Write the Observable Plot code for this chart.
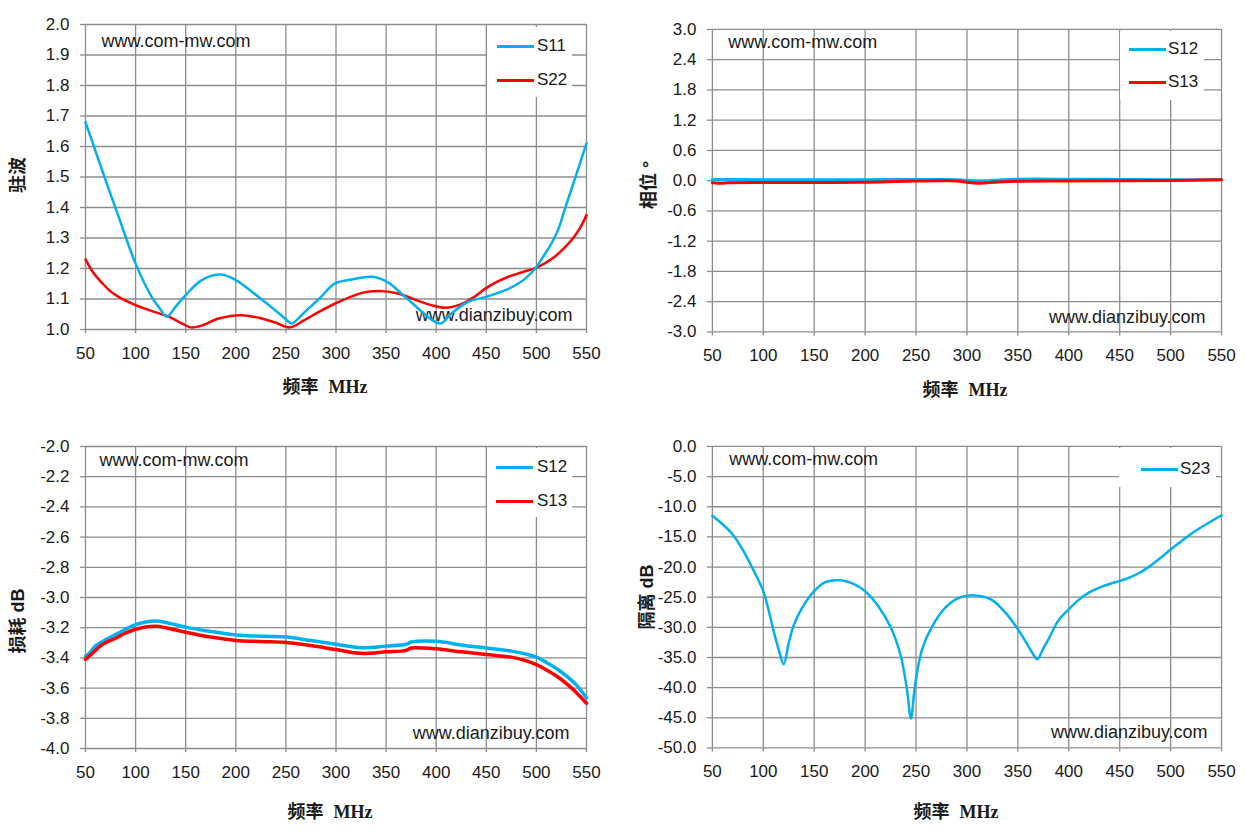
<!DOCTYPE html>
<html><head><meta charset="utf-8">
<script src="https://cdn.jsdelivr.net/npm/d3@7"></script>
<script src="https://cdn.jsdelivr.net/npm/@observablehq/plot@0.6"></script>
<style>
html,body{margin:0;padding:0;background:#fff;}
#root{position:relative;width:1255px;height:838px;overflow:hidden;font-family:"Liberation Sans",Arial,sans-serif;color:#1a1a1a;}
.pnl{position:absolute;}
.lg{position:absolute;background:#fff;}
.lgline{position:absolute;height:3px;}
.lgtxt{position:absolute;font-size:17px;line-height:20px;}
.xt{position:absolute;font-size:18px;font-weight:bold;white-space:nowrap;transform:translate(-50%,-50%);}
.yt{position:absolute;font-size:18px;font-weight:bold;white-space:nowrap;transform:translate(-50%,-50%) rotate(-90deg);}
.cjk{font-family:"Noto Sans CJK SC",sans-serif;font-weight:bold;}
.ser{font-family:"Liberation Serif",serif;font-weight:bold;}
.sans{font-family:"Liberation Sans",Arial,sans-serif;font-weight:bold;}
</style></head>
<body><div id="root"></div>
<script>
// ---------- shared ----------
const freqTicks = [50,100,150,200,250,300,350,400,450,500,550];
const blue = "#00B0F0", red = "#FF0000";

// ---------- panel 1: VSWR ----------
const vswrTicks = [1.0,1.1,1.2,1.3,1.4,1.5,1.6,1.7,1.8,1.9,2.0];
const s11Freq = [50,60,70,83,100,116,124,131,140,150,166,185,200,216,233,246,256,262,269,283,299,316,336,351,369,382,396,405,415,432,450,469,482,490,500,508,515,522,528,538,550];
const s11Vswr = [1.68,1.585,1.49,1.37,1.216,1.107,1.07,1.042,1.075,1.113,1.162,1.18,1.162,1.124,1.08,1.045,1.02,1.035,1.058,1.10,1.151,1.164,1.173,1.156,1.107,1.069,1.031,1.02,1.052,1.091,1.107,1.129,1.151,1.17,1.205,1.245,1.282,1.33,1.391,1.49,1.61];
const s22Freq = [50,58,67,75,83,100,115,133,145,155,165,183,206,226,240,254,268,283,303,326,342,362,382,395,409,425,437,449,460,472,486,500,518,535,543,550];
const s22Vswr = [1.23,1.185,1.151,1.125,1.107,1.08,1.062,1.042,1.022,1.007,1.012,1.036,1.047,1.036,1.022,1.007,1.03,1.058,1.091,1.12,1.126,1.118,1.094,1.08,1.071,1.083,1.105,1.134,1.155,1.173,1.188,1.203,1.238,1.293,1.33,1.375];

// ---------- panel 2: phase ----------
const phaseTicks = [-3.0,-2.4,-1.8,-1.2,-0.6,0.0,0.6,1.2,1.8,2.4,3.0];
const s12PhFreq = [50,100,150,200,250,280,295,305,320,335,350,400,450,500,550];
const s12Phase = [0.025,0.02,0.02,0.02,0.025,0.025,0.015,0.0,0.0,0.02,0.03,0.03,0.025,0.02,0.025];
const s13PhFreq = [50,60,65,100,150,200,230,250,280,290,300,310,320,335,350,400,450,500,550];
const s13Phase = [-0.04,-0.05,-0.04,-0.035,-0.035,-0.03,-0.015,-0.005,0.0,-0.005,-0.03,-0.05,-0.04,-0.02,-0.01,-0.005,0.0,0.005,0.02];

// ---------- panel 3: insertion loss ----------
const lossTicks = [-4.0,-3.8,-3.6,-3.4,-3.2,-3.0,-2.8,-2.6,-2.4,-2.2,-2.0];
const lossFreq = [50,55,60,65,70,80,90,100,110,120,130,140,150,175,200,225,250,275,300,325,350,370,375,400,425,450,475,490,500,510,520,530,540,550];
const s12Loss = [-3.39,-3.36,-3.32,-3.30,-3.28,-3.245,-3.21,-3.18,-3.162,-3.155,-3.165,-3.18,-3.196,-3.225,-3.248,-3.257,-3.262,-3.285,-3.31,-3.332,-3.322,-3.31,-3.295,-3.29,-3.315,-3.335,-3.355,-3.375,-3.395,-3.43,-3.47,-3.52,-3.58,-3.665];
const s13Loss = [-3.41,-3.38,-3.35,-3.32,-3.30,-3.27,-3.235,-3.21,-3.195,-3.19,-3.2,-3.215,-3.23,-3.262,-3.284,-3.292,-3.298,-3.318,-3.345,-3.37,-3.36,-3.35,-3.335,-3.34,-3.36,-3.378,-3.395,-3.42,-3.445,-3.48,-3.52,-3.57,-3.63,-3.70];

// ---------- panel 4: isolation ----------
const isoTicks = [-50,-45,-40,-35,-30,-25,-20,-15,-10,-5,0];
const s23Freq = [50,60,70,80,90,100,105,110,115,120,125,130,138,150,161,176,190,200,213,226,235,241,245,249,256,266,279,292,308,324,338,350,356,362,366,369,375,380,390,400,410,420,430,440,450,460,470,480,490,500,510,520,530,540,550];
const s23Iso = [-11.5,-12.9,-14.6,-17.2,-20.4,-24.0,-27.0,-30.5,-33.6,-36.1,-32.6,-29.6,-26.8,-24.0,-22.5,-22.2,-22.9,-24.0,-26.5,-30.3,-34.7,-40.2,-45.1,-39.6,-33.6,-29.8,-26.7,-25.1,-24.7,-25.4,-27.6,-30.3,-31.9,-33.6,-34.7,-35.3,-33.5,-32.0,-28.8,-27.0,-25.4,-24.2,-23.4,-22.8,-22.3,-21.7,-20.9,-19.8,-18.5,-17.1,-15.8,-14.5,-13.4,-12.4,-11.4];

// ---------- drawing ----------
const root = document.getElementById("root");
const gridStyle = {stroke:"#8c8c8c", strokeOpacity:1, strokeWidth:1.3};
const fontFam = "'Liberation Sans', Arial, sans-serif";

function panel(cfg) {
  const {left, top, width, height, mt, mb, ml, mr, yTicks, yFmt, series, wm} = cfg;
  const marks = [
    Plot.gridX(freqTicks, gridStyle),
    Plot.gridY(yTicks, gridStyle),
    Plot.axisX(freqTicks, {tickSize:4, tickPadding:13, stroke:"#8c8c8c", strokeWidth:1.3, fill:"#1a1a1a", label:null, tickFormat:d=>String(d)}),
    Plot.axisY(yTicks, {tickSize:5, tickPadding:11, stroke:"#8c8c8c", strokeWidth:1.3, fill:"#1a1a1a", label:null, tickFormat:yFmt}),
    Plot.text(["www.com-mw.com"], {text:d=>d, frameAnchor:"top-left", textAnchor:"start", lineAnchor:"bottom", dx:wm[0], dy:wm[1], fontSize:18, fill:"#1a1a1a"}),
    Plot.text(["www.dianzibuy.com"], {text:d=>d, frameAnchor:"bottom-right", textAnchor:"end", lineAnchor:"bottom", dx:wm[2], dy:wm[3], fontSize:18, fill:"#1a1a1a"}),
    ...series.map(s => Plot.line(s.v, {x:s.f, y:s.v, stroke:s.color, strokeWidth:s.w, curve:s.curve || "catmull-rom"}))
  ];
  const chart = Plot.plot({
    width, height, marginTop:mt, marginBottom:mb, marginLeft:ml, marginRight:mr,
    style:{fontFamily:fontFam, fontSize:"17px", color:"#1a1a1a", background:"transparent", overflow:"visible"},
    x:{domain:[50,550]},
    y:{domain:[yTicks[0], yTicks[yTicks.length-1]]},
    marks
  });
  const d = document.createElement("div");
  d.className = "pnl"; d.style.left = left+"px"; d.style.top = top+"px";
  d.appendChild(chart);
  root.appendChild(d);
}

const f1 = d=>d.toFixed(1);

panel({left:0, top:0, width:620, height:410, mt:24, mb:81, ml:85, mr:34, yTicks:vswrTicks, yFmt:f1,
  wm:[16,22,-14,-9],
  series:[{f:s22Freq, v:s22Vswr, color:red, w:2.5},{f:s11Freq, v:s11Vswr, color:blue, w:2.5}]});
panel({left:627, top:0, width:629, height:413, mt:29, mb:81, ml:85, mr:34, yTicks:phaseTicks, yFmt:f1,
  wm:[16,19,-16,-9],
  series:[{f:s12PhFreq, v:s12Phase, color:blue, w:3},{f:s13PhFreq, v:s13Phase, color:red, w:3}]});
panel({left:0, top:420, width:620, height:409, mt:26, mb:81, ml:85, mr:34, yTicks:lossTicks, yFmt:f1,
  wm:[14,19,-17,-10],
  series:[{f:lossFreq, v:s12Loss, color:blue, w:3.5},{f:lossFreq, v:s13Loss, color:red, w:3.5}]});
panel({left:627, top:420, width:629, height:409, mt:26, mb:81, ml:85, mr:34, yTicks:isoTicks, yFmt:f1,
  wm:[17,19,-14,-10],
  series:[{f:s23Freq, v:s23Iso, color:blue, w:2.5}]});

// ---------- legends (HTML) ----------
function legend(box, items) {
  const b = document.createElement("div");
  b.className = "lg";
  Object.assign(b.style, {left:box[0]+"px", top:box[1]+"px", width:(box[2]-box[0])+"px", height:(box[3]-box[1])+"px"});
  root.appendChild(b);
  for (const it of items) {
    const l = document.createElement("div");
    l.className = "lgline";
    Object.assign(l.style, {left:it.x0+"px", top:(it.y-1.5)+"px", width:(it.x1-it.x0)+"px", background:it.color});
    root.appendChild(l);
    const t = document.createElement("div");
    t.className = "lgtxt"; t.textContent = it.label;
    Object.assign(t.style, {left:it.tx+"px", top:(it.y-10)+"px"});
    root.appendChild(t);
  }
}
legend([487,27,572,97], [{label:"S11", color:blue, x0:497, x1:534, tx:537, y:46},{label:"S22", color:red, x0:497, x1:534, tx:537, y:80}]);
legend([1120,31,1204,100], [{label:"S12", color:blue, x0:1129, x1:1166, tx:1168, y:49},{label:"S13", color:red, x0:1129, x1:1166, tx:1168, y:82}]);
legend([487,448,572,517], [{label:"S12", color:blue, x0:496, x1:533, tx:537, y:467},{label:"S13", color:red, x0:496, x1:533, tx:537, y:501}]);
legend([1119,448,1216,487], [{label:"S23", color:blue, x0:1141, x1:1178, tx:1180, y:469}]);

// ---------- axis titles ----------
function title(cls, x, y, html) {
  const t = document.createElement("div");
  t.className = cls; t.innerHTML = html;
  Object.assign(t.style, {left:x+"px", top:y+"px"});
  root.appendChild(t);
}
const xTitle = '<span class="cjk">频率</span>&nbsp;&nbsp;<span class="ser">MHz</span>';
title("xt", 325, 385, xTitle);
title("xt", 965, 388, xTitle);
title("xt", 330, 810, xTitle);
title("xt", 956, 810, xTitle);
title("yt", 16, 175, '<span class="cjk">驻波</span>');
title("yt", 647, 185, '<span class="cjk">相位</span> <span class="sans">°</span>');
title("yt", 16, 621, '<span class="cjk">损耗</span> <span class="sans">dB</span>');
title("yt", 645, 597, '<span class="cjk">隔离</span> <span class="sans">dB</span>');
</script>
</body></html>
